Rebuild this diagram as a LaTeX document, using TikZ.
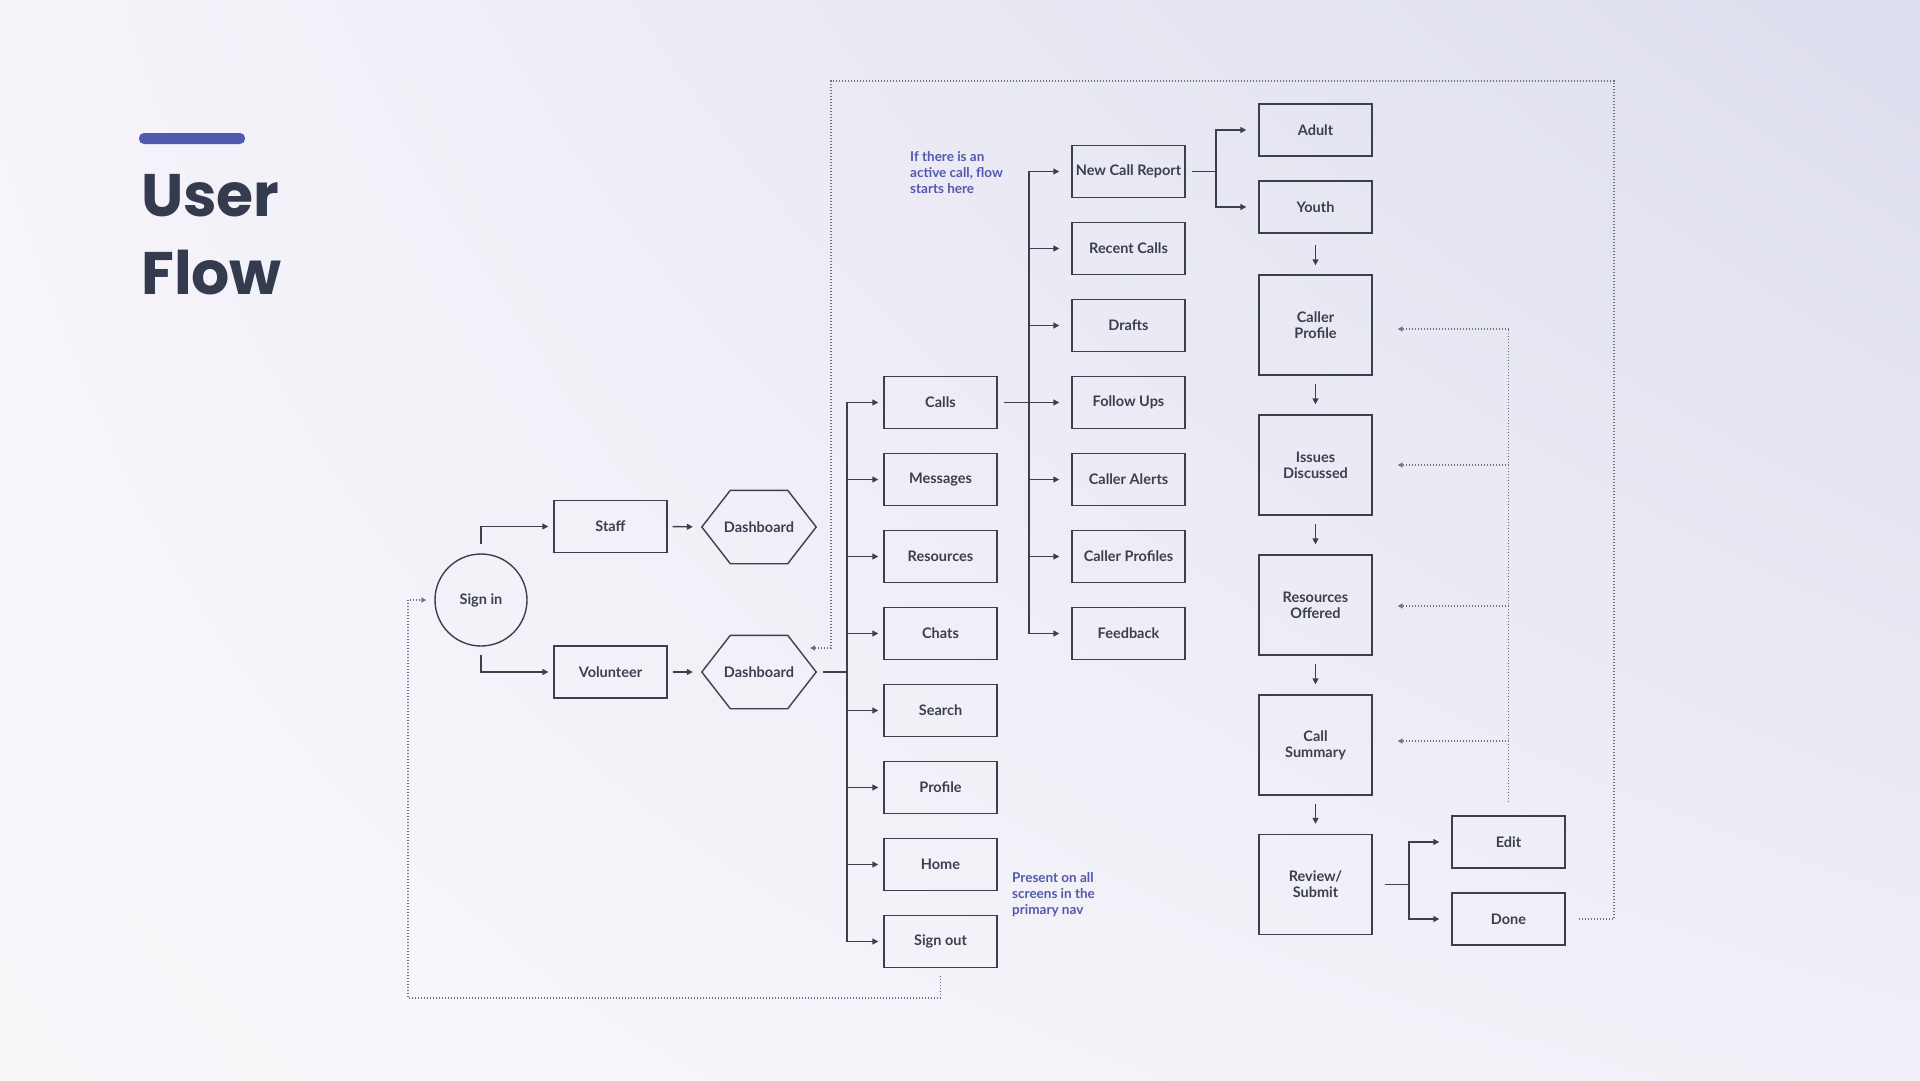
\documentclass[tikz,border=0pt]{standalone}
\usepackage{fontspec}
\setmainfont{Lato}
\newfontfamily\titlefont{Poppins}
\usetikzlibrary{arrows.meta,calc,shadings}
\definecolor{ink}{HTML}{3A4050}
\definecolor{titlec}{HTML}{343B4E}
\definecolor{accent}{HTML}{5259B0}
\definecolor{dotc}{HTML}{6C7185}
\definecolor{bgTL}{HTML}{F6F4FA}
\definecolor{bgTR}{HTML}{DCDDED}
\definecolor{bgBL}{HTML}{FAF7FB}
\definecolor{bgBR}{HTML}{F1EFF7}
\tikzset{
  box/.style={draw=ink, line width=1.4pt, minimum width=113pt, minimum height=52pt, inner sep=0pt,
    font=\fontsize{14.5}{16}\selectfont\bfseries, text=ink, align=center},
  tallbox/.style={box, minimum height=100pt},
  hexbox/.style={minimum width=114pt, minimum height=73pt, inner sep=0pt,
    font=\fontsize{14.5}{16}\selectfont\bfseries, text=ink},
  wire/.style={draw=ink, line width=1.4pt},
  link/.style={wire, -{Triangle[length=6pt,width=6pt]}},
  dots/.style={draw=dotc, line width=1.1pt, dash pattern=on 1pt off 2pt},
  dotlink/.style={dots, -{Triangle[length=5pt,width=5pt]}},
  note/.style={anchor=north west, inner sep=0pt, align=left, text=accent,
    font=\fontsize{13.5}{15.7}\selectfont\bfseries},
  titletext/.style={anchor=base west, inner sep=0pt, text=titlec,
    font=\titlefont\bfseries\fontsize{60}{78}\selectfont}
}
\begin{document}
\begin{tikzpicture}[x=1pt,y=-1pt]
\useasboundingbox (0,0) rectangle (1920,1080);
\shade[upper left=bgTL, upper right=bgTR, lower left=bgBL, lower right=bgBR] (0,0) rectangle (1920,1080);

% title
\fill[accent, rounded corners=5pt] (139,133) rectangle (245,144);
\node[titletext] (t1) at (141,216) {User};
\node[titletext] (t2) at (141,294) {Flow};

% left part
\node[draw=ink, line width=1.4pt, circle, minimum size=92pt, inner sep=0pt,
  font=\fontsize{14.5}{16}\selectfont\bfseries, text=ink] (signin) at (481,600) {Sign in};
\node[box] (staff) at (610.5,526.5) {Staff};
\node[box] (volunteer) at (610.5,672) {Volunteer};
\node[hexbox] (dash1) at (759,527) {Dashboard};
\node[hexbox] (dash2) at (759,672) {Dashboard};
\foreach \h in {dash1,dash2}{
  \draw[wire] (\h.west) -- ([xshift=28.5pt]\h.north west) -- ([xshift=-28.5pt]\h.north east)
    -- (\h.east) -- ([xshift=-28.5pt]\h.south east) -- ([xshift=28.5pt]\h.south west) -- cycle;
}

% column A
\node[box] (calls) at (940.5,402.5) {Calls};
\node[box] (messages) at (940.5,479.5) {Messages};
\node[box] (resources) at (940.5,556.5) {Resources};
\node[box] (chats) at (940.5,633.5) {Chats};
\node[box] (search) at (940.5,710.5) {Search};
\node[box] (profile) at (940.5,787.5) {Profile};
\node[box] (home) at (940.5,864.5) {Home};
\node[box] (signout) at (940.5,941.5) {Sign out};

% column B
\node[box] (ncr) at (1128.5,171.5) {New Call Report};
\node[box] (recent) at (1128.5,248.5) {Recent Calls};
\node[box] (drafts) at (1128.5,325.5) {Drafts};
\node[box] (follow) at (1128.5,402.5) {Follow Ups};
\node[box] (alerts) at (1128.5,479.5) {Caller Alerts};
\node[box] (cprofiles) at (1128.5,556.5) {Caller Profiles};
\node[box] (feedback) at (1128.5,633.5) {Feedback};

% column C
\node[box] (adult) at (1315.5,130) {Adult};
\node[box] (youth) at (1315.5,207) {Youth};
\node[tallbox] (cp) at (1315.5,325) {Caller\\Profile};
\node[tallbox] (issues) at (1315.5,465) {Issues\\Discussed};
\node[tallbox] (roffered) at (1315.5,605) {Resources\\Offered};
\node[tallbox] (summary) at (1315.5,745) {Call\\Summary};
\node[tallbox] (review) at (1315.5,884.5) {Review/\\Submit};
\node[box] (edit) at (1508.5,842) {Edit};
\node[box] (done) at (1508.5,919) {Done};

% notes
\node[note] (n1) at (910,151.5) {If there is an\\active call, flow\\starts here};
\node[note] (n2) at (1012,872.5) {Present on all\\screens in the\\primary nav};

% solid connectors
\draw[link, shorten >=5pt] ([yshift=9pt]signin.north) |- (staff.west);
\draw[link, shorten >=5pt] ([yshift=-8pt]signin.south) |- (volunteer.west);
\draw[link, shorten <=5pt, shorten >=9pt] (staff.east) -- (dash1.west);
\draw[link, shorten <=5pt, shorten >=9pt] (volunteer.east) -- (dash2.west);

\coordinate (sA) at (847,672);
\draw[wire] ([xshift=7pt]dash2.east) -- (sA);
\foreach \n in {calls,messages,resources,chats,search,profile,home,signout}{
  \draw[link, shorten >=5pt] (sA) |- (\n.west);
}

\coordinate (sB) at (1029,402.5);
\draw[wire] ([xshift=6pt]calls.east) -- (sB);
\foreach \n in {ncr,recent,drafts,follow,alerts,cprofiles,feedback}{
  \draw[link, shorten >=12pt] (sB) |- (\n.west);
}

\coordinate (sC) at (1216,171.5);
\draw[wire] ([xshift=6pt]ncr.east) -- (sC);
\draw[link, shorten >=12pt] (sC) |- (adult.west);
\draw[link, shorten >=12pt] (sC) |- (youth.west);

\draw[link, shorten <=11pt, shorten >=9pt] (youth.south) -- (cp.north);
\draw[link, shorten <=8pt, shorten >=10pt] (cp.south) -- (issues.north);
\draw[link, shorten <=8pt, shorten >=10pt] (issues.south) -- (roffered.north);
\draw[link, shorten <=8pt, shorten >=10pt] (roffered.south) -- (summary.north);
\draw[link, shorten <=8pt, shorten >=10pt] (summary.south) -- (review.north);

\coordinate (sD) at (1409,884.5);
\draw[wire] ([xshift=12pt]review.east) -- (sD);
\draw[link, shorten >=12pt] (sD) |- (edit.west);
\draw[link, shorten >=12pt] (sD) |- (done.west);

% dotted connectors
\coordinate (e1) at (1508.5,329);
\coordinate (e2) at (1508.5,465);
\coordinate (e3) at (1508.5,606);
\coordinate (e4) at (1508.5,741);
\draw[dots] ([yshift=13pt]edit.north) -- (e1);
\draw[dotlink, shorten >=25pt] (e1) -- (e1 -| cp.east);
\draw[dotlink, shorten >=25pt] (e2) -- (e2 -| issues.east);
\draw[dotlink, shorten >=25pt] (e3) -- (e3 -| roffered.east);
\draw[dotlink, shorten >=25pt] (e4) -- (e4 -| summary.east);

\coordinate (r1) at (1614,81);
\coordinate (r2) at (831,81);
\coordinate (r3) at (831,648);
\coordinate (d2in) at (810,648);
\draw[dotlink] ([xshift=13pt]done.east) -| (r1) -- (r2) -- (r3) -- (d2in);

\coordinate (q1) at (940.5,998);
\coordinate (q2) at (408,998);
\coordinate (q3) at (408,600);
\draw[dotlink, shorten >=8pt] ([yshift=-8pt]signout.south) -- (q1) -- (q2) -- (q3) -- (signin.west);
\end{tikzpicture}
\end{document}
